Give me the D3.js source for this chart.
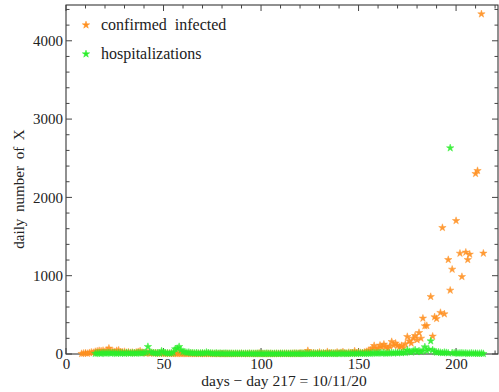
<!DOCTYPE html>
<html>
<head>
<meta charset="utf-8">
<script src="https://cdn.jsdelivr.net/npm/d3@7"></script>
<style>
  html, body { margin: 0; padding: 0; background: #fff; }
  svg { display: block; }
  text { font-family: "Liberation Serif", "DejaVu Serif", serif; fill: #222; }
</style>
</head>
<body>
<svg id="chart" width="499" height="392"></svg>
<script>
// Daily confirmed infections: contiguous run from day 8 to day 182
const confirmedStart = 8;
const confirmedEarly = [
  4, 8, 12, 6, 15, 22, 18, 30, 35, 42,
  38, 44, 30, 46, 73, 40, 36, 28, 42, 48,
  26, 22, 30, 18, 24, 16, 20, 14, 22, 28,
  38, 20, 14, 10, 16, 8, 12, 10, 14, 6,
  8, 10, 6, 4, 8, 5, 6, 3, 5, 4,
  6, 3, 4, 5, 2, 4, 3, 5, 2, 3,
  4, 2, 3, 2, 4, 3, 2, 3, 2, 4,
  2, 3, 2, 3, 2, 4, 2, 3, 2, 3,
  2, 3, 4, 2, 3, 2, 5, 3, 2, 4,
  3, 8, 4, 3, 2, 5, 3, 4, 2, 3,
  4, 3, 5, 2, 6, 4, 3, 5, 4, 8,
  6, 5, 10, 8, 6, 12, 42, 10, 8, 14,
  6, 10, 20, 8, 12, 6, 28, 10, 14, 8,
  12, 22, 10, 16, 26, 12, 8, 18, 14, 10,
  38, 12, 20, 16, 14, 22, 30, 42, 48, 73,
  106, 60, 73, 111, 85, 124, 90, 70, 98, 157,
  110, 137, 106, 90, 106, 80, 128, 221, 166, 137,
  200, 234, 180, 272, 200
];
// Later reported days (not every day has a report)
const confirmedLateDays = [183, 184, 185, 187, 188, 189, 190, 192, 193, 194, 196, 197, 198, 200, 202, 203, 205, 206, 207, 210, 211, 213, 214];
const confirmedLateValues = [456, 358, 361, 732, 226, 473, 451, 528, 1613, 511, 1204, 813, 1081, 1702, 1285, 987, 1299, 1204, 1273, 2303, 2341, 4342, 1286];

// Daily hospitalizations, day 15 to day 214
const hospStart = 15;
const hospValues = [
  5, 8, 10, 6, 12, 8, 10, 14, 8, 12,
  10, 6, 12, 8, 10, 6, 14, 10, 8, 12,
  10, 8, 14, 12, 10, 16, 20, 93, 30, 18,
  14, 10, 12, 8, 38, 20, 14, 10, 8, 12,
  20, 64, 70, 93, 50, 30, 24, 18, 20, 14,
  12, 10, 14, 8, 10, 12, 8, 21, 14, 10,
  8, 6, 10, 6, 8, 5, 6, 8, 4, 6,
  5, 4, 6, 5, 4, 6, 3, 5, 4, 6,
  4, 5, 3, 6, 4, 5, 3, 4, 6, 4,
  5, 3, 4, 5, 3, 4, 6, 3, 5, 4,
  3, 5, 4, 6, 3, 4, 5, 3, 4, 5,
  4, 3, 5, 4, 6, 3, 4, 5, 3, 4,
  5, 4, 6, 3, 5, 4, 8, 5, 6, 4,
  6, 5, 8, 6, 4, 10, 6, 8, 5, 7,
  8, 6, 10, 12, 8, 10, 14, 10, 12, 8,
  10, 12, 14, 10, 16, 12, 18, 14, 20, 16,
  50, 30, 22, 36, 51, 28, 40, 30, 40, 90,
  40, 60, 166, 51, 30, 20, 24, 18, 14, 20,
  16, 12, 2631, 14, 10, 12, 8, 10, 12, 8,
  10, 6, 8, 10, 6, 8, 5, 6, 8, 4
];

const xTicks = [0, 50, 100, 150, 200];
const yTicks = [0, 1000, 2000, 3000, 4000];
const seriesNames = ["confirmed infected", "hospitalizations"];
const seriesColors = ["#ff9020", "#2cee2c"];

const confirmed = confirmedEarly.map((v, i) => ({ day: confirmedStart + i, value: v }))
  .concat(confirmedLateDays.map((d, i) => ({ day: d, value: confirmedLateValues[i] })));
const hosp = hospValues.map((v, i) => ({ day: hospStart + i, value: v }));

const svg = d3.select("#chart");
const m = { left: 66, right: 498, top: 5, bottom: 354 };

const x = d3.scaleLinear().domain([0, 221.5]).range([m.left, m.right]);
const y = d3.scaleLinear().domain([0, 4457]).range([m.bottom, m.top]);

// Frame
svg.append("rect")
  .attr("x", m.left).attr("y", m.top)
  .attr("width", m.right - m.left).attr("height", m.bottom - m.top)
  .attr("fill", "none").attr("stroke", "#222").attr("stroke-width", 1);

const axisColor = "#444";
// Minor + major ticks on all four sides (drawn inward)
const xMinor = d3.range(0, 221, 10);
const yMinor = d3.range(0, 4457, 200);
const tickG = svg.append("g").attr("stroke", axisColor).attr("stroke-width", 1);
xMinor.forEach(v => {
  const major = v % 50 === 0;
  const len = major ? 6 : 3.5;
  tickG.append("line").attr("x1", x(v)).attr("x2", x(v)).attr("y1", m.bottom).attr("y2", m.bottom - len);
  tickG.append("line").attr("x1", x(v)).attr("x2", x(v)).attr("y1", m.top).attr("y2", m.top + len);
});
yMinor.forEach(v => {
  const major = v % 1000 === 0;
  const len = major ? 6 : 3.5;
  tickG.append("line").attr("y1", y(v)).attr("y2", y(v)).attr("x1", m.left).attr("x2", m.left + len);
  tickG.append("line").attr("y1", y(v)).attr("y2", y(v)).attr("x1", m.right).attr("x2", m.right - len);
});

// Tick labels via d3 axes (tick marks hidden, frame ticks drawn above)
const xAxis = d3.axisBottom(x).tickValues(xTicks).tickSize(0).tickPadding(4).tickFormat(d3.format("d"));
svg.append("g").attr("transform", `translate(0,${m.bottom})`).call(xAxis)
  .call(g => g.select(".domain").remove())
  .call(g => g.selectAll("text").attr("font-size", 15).attr("font-family", "Liberation Serif, serif").attr("fill", "#222"));

const yAxis = d3.axisLeft(y).tickValues(yTicks).tickSize(0).tickPadding(3).tickFormat(d3.format("d"));
svg.append("g").attr("transform", `translate(${m.left},0)`).call(yAxis)
  .call(g => g.select(".domain").remove())
  .call(g => g.selectAll("text").attr("font-size", 15).attr("font-family", "Liberation Serif, serif").attr("fill", "#222"));

// Axis titles
svg.append("text")
  .attr("x", 284).attr("y", 386)
  .attr("text-anchor", "middle").attr("font-size", 15.5)
  .text("days − day 217 = 10/11/20");
svg.append("text")
  .attr("transform", `translate(24,${189}) rotate(-90)`)
  .attr("text-anchor", "middle").attr("font-size", 15)
  .attr("word-spacing", "3px")
  .text("daily number of X");

// Star markers
const star = d3.symbol().type(d3.symbolStar).size(17);
const plotG = svg.append("g");
[confirmed, hosp].forEach((data, k) => {
  plotG.append("g").selectAll("path").data(data).join("path")
    .attr("d", star)
    .attr("transform", d => `translate(${x(d.day)},${y(d.value)})`)
    .attr("fill", seriesColors[k])
    .attr("stroke", seriesColors[k]).attr("stroke-width", 0.5)
    .attr("opacity", 0.9);
});

// Legend
const legend = svg.append("g");
seriesNames.forEach((name, k) => {
  const ly = 25 + k * 29;
  legend.append("path").attr("d", star).attr("transform", `translate(86,${ly})`)
    .attr("fill", seriesColors[k]).attr("stroke", seriesColors[k]).attr("stroke-width", 0.5);
  legend.append("text").attr("x", 101).attr("y", ly + 5)
    .attr("font-size", 16).attr("word-spacing", "4px").text(name);
});
</script>
</body>
</html>
